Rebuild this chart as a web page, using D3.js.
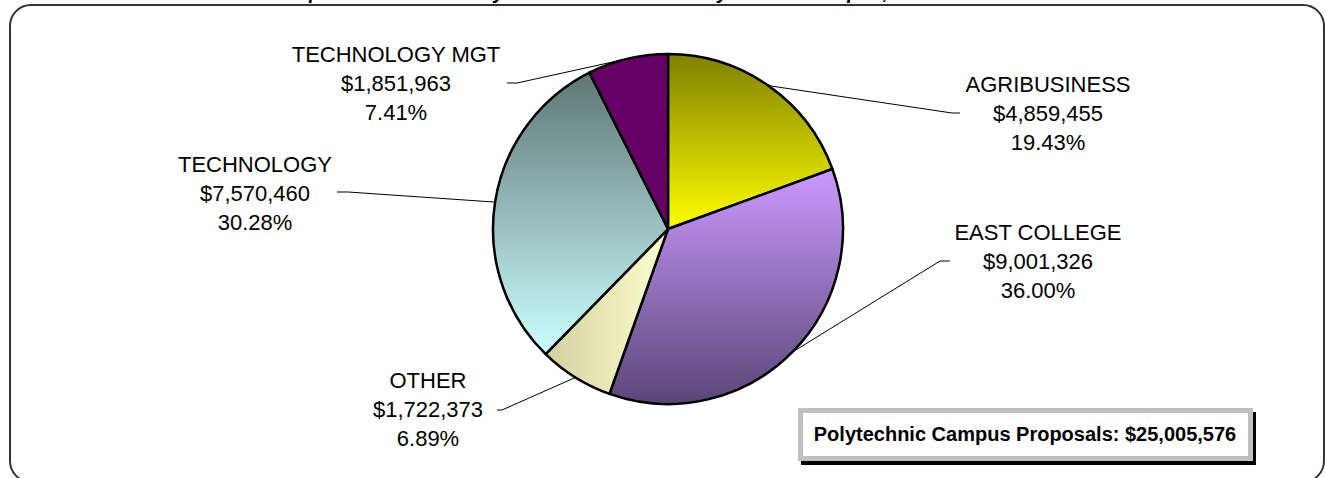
<!DOCTYPE html>
<html>
<head>
<meta charset="utf-8">
<script src="https://cdn.jsdelivr.net/npm/d3@7"></script>
<style>
  body { margin: 0; background: #fff; }
  svg { display: block; font-family: Arial, "Liberation Sans", sans-serif; }
</style>
</head>
<body>
<script>
// data
var categories = ['AGRIBUSINESS', 'EAST COLLEGE', 'OTHER', 'TECHNOLOGY', 'TECHNOLOGY MGT'];
var amounts = [4859455, 9001326, 1722373, 7570460, 1851963];
var totalShown = 25005576;
var titleText = 'Proposals Submitted by Academic Unit for Polytechnic Campus, Fiscal Year 2007';

// slice fills (gradients), top->bottom unless horizontal
var fills = [
    {from: '#808000', to: '#ffff00', dir: 'v'},
    {from: '#cc99ff', to: '#5a4677', dir: 'v'},
    {from: '#d4d0a0', to: '#ffffd0', dir: 'h'},
    {from: '#5f7676', to: '#ccffff', dir: 'v'},
    {from: '#660066', to: '#660066', dir: 'v'}
];

// label layout: centre x, first baseline, elbow of leader, end of leader
var labelPos = [
    {x: 1048, y: 92,  ex: 952, ey: 113, tx: 960},
    {x: 1038, y: 240, ex: 940, ey: 261, tx: 950},
    {x: 428,  y: 388, ex: 502, ey: 410, tx: 497},
    {x: 255,  y: 172, ex: 348, ey: 192, tx: 337},
    {x: 396,  y: 62,  ex: 517, ey: 83,  tx: 507}
];

var width = 1325, height = 478;
var cx = 668, cy = 229, radius = 175;
var lineGap = 29;

var svg = d3.select('body').append('svg')
    .attr('width', width)
    .attr('height', height);

var defs = svg.append('defs');
fills.forEach(function(f, i){
    var grad = defs.append('linearGradient')
        .attr('id', 'g' + i)
        .attr('x1', 0).attr('y1', 0)
        .attr('x2', f.dir == 'h' ? 1 : 0)
        .attr('y2', f.dir == 'h' ? 0 : 1);
    grad.append('stop').attr('offset', '0%').attr('stop-color', f.from);
    grad.append('stop').attr('offset', '100%').attr('stop-color', f.to);
});

// title, mostly cut off by the top of the picture
svg.append('text')
    .attr('x', 662)
    .attr('y', -1)
    .attr('text-anchor', 'middle')
    .attr('font-size', '20px')
    .attr('font-weight', 'bold')
    .attr('font-style', 'italic')
    .text(titleText);

// chart frame
svg.append('rect')
    .attr('x', 10).attr('y', 5)
    .attr('width', 1314).attr('height', 477)
    .attr('rx', 21).attr('ry', 21)
    .attr('fill', 'none')
    .attr('stroke', '#333')
    .attr('stroke-width', 2);

var total = d3.sum(amounts);
var data = categories.map(function(c, i){
    return {name: c, value: amounts[i], idx: i};
});

var pie = d3.pie()
    .sort(null)
    .value(function(d){ return d.value; });
var arcs = pie(data);

var arc = d3.arc().innerRadius(0).outerRadius(radius);

var g = svg.append('g').attr('transform', 'translate(' + cx + ',' + cy + ')');

g.selectAll('path.slice')
    .data(arcs)
    .enter().append('path')
    .attr('class', 'slice')
    .attr('d', arc)
    .attr('fill', function(d){ return 'url(#g' + d.data.idx + ')'; })
    .attr('stroke', '#000')
    .attr('stroke-width', 2.5)
    .attr('stroke-linejoin', 'round');

var money = d3.format('$,');
var pct = d3.format('.2%');

// leader lines
svg.append('g').selectAll('polyline')
    .data(arcs)
    .enter().append('polyline')
    .attr('points', function(d){
        var a = (d.startAngle + d.endAngle) / 2;
        var p = labelPos[d.data.idx];
        var sx = cx + radius * Math.sin(a);
        var sy = cy - radius * Math.cos(a);
        return [[sx, sy], [p.ex, p.ey], [p.tx, p.ey]].join(' ');
    })
    .attr('fill', 'none')
    .attr('stroke', '#000')
    .attr('stroke-width', 1);

// labels
var lab = svg.append('g').selectAll('text')
    .data(arcs)
    .enter().append('text')
    .attr('text-anchor', 'middle')
    .attr('font-size', '22px')
    .attr('fill', '#000');

lab.each(function(d){
    var p = labelPos[d.data.idx];
    var lines = [d.data.name, money(d.data.value), pct(d.data.value / total)];
    var t = d3.select(this);
    lines.forEach(function(l, k){
        t.append('tspan')
            .attr('x', p.x)
            .attr('y', p.y + k * lineGap)
            .text(l);
    });
});

// total box
var box = svg.append('g');
box.append('rect')
    .attr('x', 801).attr('y', 412)
    .attr('width', 455).attr('height', 53)
    .attr('fill', '#000');
box.append('rect')
    .attr('x', 800.5).attr('y', 410.5)
    .attr('width', 450).attr('height', 48)
    .attr('fill', '#fff')
    .attr('stroke', '#c0c0c0')
    .attr('stroke-width', 5);
box.append('text')
    .attr('x', 1025)
    .attr('y', 441)
    .attr('text-anchor', 'middle')
    .attr('font-size', '20px')
    .attr('font-weight', 'bold')
    .text('Polytechnic Campus Proposals: ' + money(totalShown));
</script>
</body>
</html>
